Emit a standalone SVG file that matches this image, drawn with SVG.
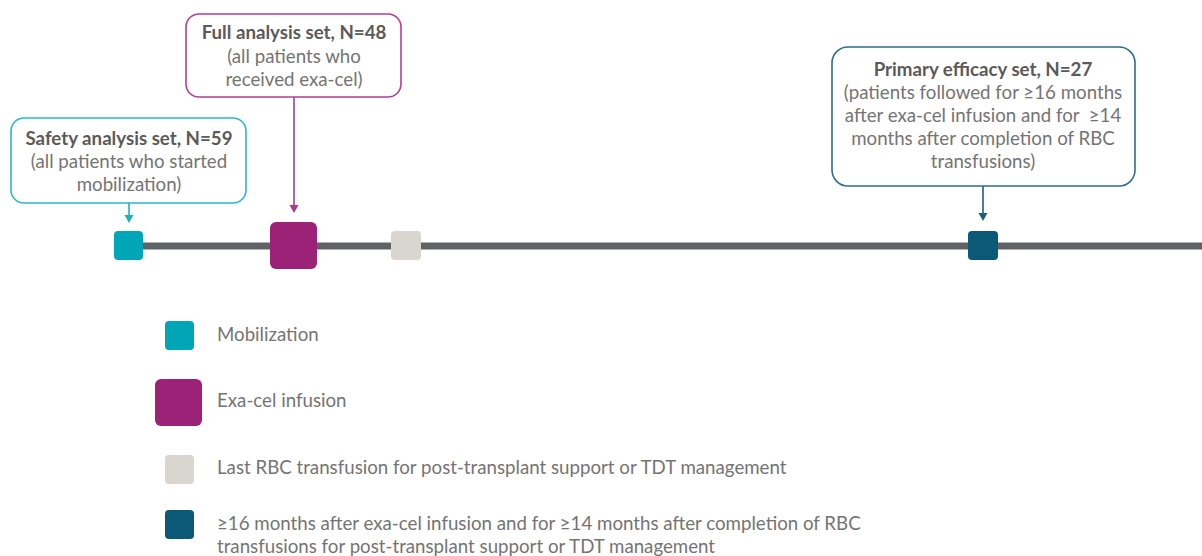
<svg xmlns="http://www.w3.org/2000/svg" width="1202" height="556" viewBox="0 0 1202 556">
<defs>
<style>
text{font-family:"Lato","Open Sans","Liberation Sans",sans-serif;font-size:18.7px;fill:#747474}
.b{font-weight:bold;fill:#5a5a5a}
.c{text-anchor:middle}
.box{fill:#fff;stroke-width:1.6}
</style>
</defs>
<g id="timeline"><line x1="128" y1="246" x2="1202" y2="246" stroke="#606365" stroke-width="7"/></g>
<g id="connectors">
<line x1="129" y1="203" x2="129" y2="217" stroke="#1fb0bf" stroke-width="1.6"/>
<path d="M124.5,215 L133.5,215 L129,223 Z" fill="#1fb0bf"/>
<line x1="294" y1="97" x2="294" y2="207" stroke="#a83b8a" stroke-width="1.6"/>
<path d="M289.5,205 L298.5,205 L294,213 Z" fill="#a83b8a"/>
<line x1="983" y1="186" x2="983" y2="215" stroke="#1e5f7c" stroke-width="1.6"/>
<path d="M978.5,213 L987.5,213 L983,221 Z" fill="#1e5f7c"/>
</g>
<g id="m-mobilization"><rect x="114" y="231" width="29" height="29" rx="4" fill="#00a6b6"/></g>
<g id="m-infusion"><rect x="270" y="222" width="47" height="47" rx="6" fill="#9c2277"/></g>
<g id="m-lastrbc"><rect x="391" y="231" width="30" height="29" rx="4" fill="#d9d6d0"/></g>
<g id="m-16months"><rect x="968" y="231" width="30" height="29" rx="4" fill="#0b5877"/></g>
<g id="safety">
<rect class="box" x="11" y="118" width="235" height="85" rx="13" stroke="#2bb8c6"/>
<text class="c b" x="129" y="145">Safety analysis set, N=59</text>
<text class="c" x="129" y="168">(all patients who started</text>
<text class="c" x="129" y="191">mobilization)</text>
</g>
<g id="full">
<rect class="box" x="186" y="14" width="215" height="83" rx="13" stroke="#b0418f"/>
<text class="c b" x="294" y="39">Full analysis set, N=48</text>
<text class="c" x="294" y="63">(all patients who</text>
<text class="c" x="294" y="86">received exa-cel)</text>
</g>
<g id="primary">
<rect class="box" x="832" y="47" width="303" height="139" rx="16" stroke="#2d6e8a"/>
<text class="c b" x="983" y="76">Primary efficacy set, N=27</text>
<text class="c" x="983" y="99">(patients followed for ≥16 months</text>
<text class="c" x="983" y="122" xml:space="preserve">after exa-cel infusion and for  ≥14</text>
<text class="c" x="983" y="145">months after completion of RBC</text>
<text class="c" x="983" y="168">transfusions)</text>
</g>
<g id="legend">
<rect x="165" y="321" width="29" height="29" rx="4" fill="#00a6b6"/>
<text x="217" y="341">Mobilization</text>
<rect x="155" y="379" width="47" height="47" rx="6" fill="#9c2277"/>
<text x="217" y="407">Exa-cel infusion</text>
<rect x="165" y="455" width="29" height="29" rx="4" fill="#d9d6d0"/>
<text x="217" y="474">Last RBC transfusion for post-transplant support or TDT management</text>
<rect x="165" y="510" width="29" height="29" rx="4" fill="#0b5877"/>
<text x="217" y="530">≥16 months after exa-cel infusion and for ≥14 months after completion of RBC</text>
<text x="217" y="553">transfusions for post-transplant support or TDT management</text>
</g>
</svg>
